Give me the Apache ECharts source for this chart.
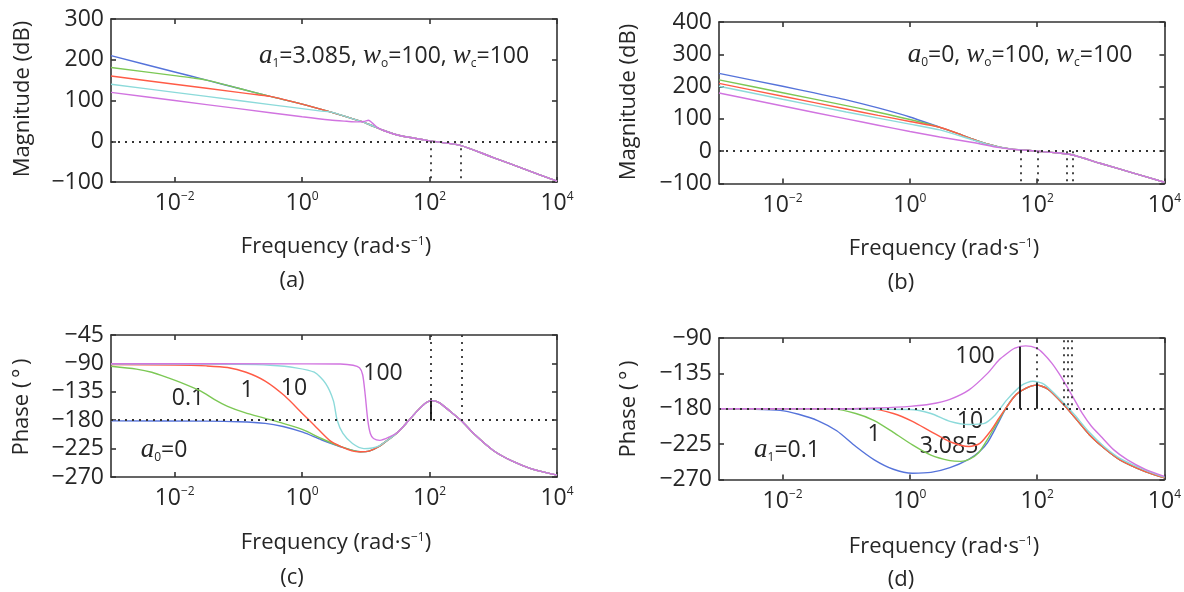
<!DOCTYPE html>
<html>
<head>
<meta charset="utf-8">
<script src="https://cdn.jsdelivr.net/npm/echarts@6/dist/echarts.min.js"></script>
<style>
  html, body { margin: 0; background: #fff; }
  #chart { width: 1184px; height: 592px; }
</style>
</head>
<body>
<div id="chart"></div>
<script>
// x values are log10 of the frequency (rad/s), the axes run from 10^-3 to 10^4
const freqTicks = [-2, 0, 2, 4];

// (a) magnitude, a1 = 3.085 ; curves a0 = 0, 0.1, 1, 10, 100
const magA_tail = [[-1.5,150],[-1,130],[-0.5,110],[0,91],[0.44,72],[0.7,60],[0.96,47],[1.1,38],[1.27,27],[1.48,16],[1.74,8],[2.0,1],[2.48,-10],[3.0,-40],[3.5,-69],[4.0,-98]];
const magA_a0_0 = [[-3,210],[-2,170]];
const magA_a0_01 = [[-3,181],[-2,161],[-1.7,155]];
const magA_a0_1 = [[-3,160],[-2,140],[-1,120],[-0.7,114]];
const magA_a0_10 = [[-3,140],[-2,120],[-1,100],[0,80],[0.3,74]];
const magA_a0_100 = [[-3,120],[-2,100],[-1,80],[0,60],[0.44,52],[0.7,49],[0.86,47.5],[0.97,48.5],[1.04,51.5],[1.1,45],[1.18,34]];

// (b) magnitude, a0 = 0 ; curves a1 = 0.1, 1, 3.085, 10, 100
const magB_tail = [[0.47,74],[0.75,55],[0.99,37],[1.2,23],[1.41,12.5],[1.6,6.5],[1.83,3],[2.01,0],[2.3,-5],[2.54,-11],[3.0,-38],[3.5,-67],[4.0,-96]];
const magB_a1_01 = [[-3,241],[-2,201],[-1.5,180.5],[-1,159],[-0.5,134],[0,106]];
const magB_a1_1 = [[-3,221],[-2,181],[-1,141],[-0.5,120.5],[0,98]];
const magB_a1_3 = [[-3,210],[-2,170],[-1,130.5],[-0.5,111],[0,92]];
const magB_a1_10 = [[-3,201],[-2,161],[-1,121.5],[-0.5,102.5],[0,84],[0.47,66],[0.99,35],[1.2,22.5]];
const magB_a1_100 = [[-3,180],[-2,140],[-1,100],[-0.5,80.5],[0,61],[0.47,44],[0.99,27],[1.41,11],[1.72,3.5]];

// (c) phase, a1 = 3.085 ; curves a0 = 0, 0.1, 1, 10, 100
const phC_tail = [[0.91,-230],[1.05,-229],[1.2,-222],[1.35,-211],[1.5,-199],[1.65,-183],[1.8,-166],[1.95,-152],[2.04,-149],[2.15,-152],[2.3,-164],[2.5,-181],[2.7,-202],[3.0,-228],[3.3,-245],[3.6,-257],[4.0,-267]];
const phC_a0_0 = [[-3,-181],[-1.5,-181.5],[-1,-182.5],[-0.58,-185],[-0.3,-190],[0.01,-199],[0.3,-211],[0.6,-222]];
const phC_a0_01 = [[-3,-94.5],[-2.6,-99],[-2.36,-104],[-2.1,-113],[-1.89,-121],[-1.59,-134],[-1.38,-147],[-1.17,-158],[-0.9,-168],[-0.58,-177],[-0.3,-185],[0.01,-195],[0.3,-209],[0.6,-221.5]];
const phC_a0_1 = [[-3,-92],[-2,-92.5],[-1.5,-94],[-1.17,-96.5],[-0.88,-104],[-0.58,-118],[-0.28,-141],[0.01,-170],[0.19,-188],[0.43,-212],[0.61,-222],[0.78,-228.5]];
const phC_a0_10 = [[-3,-91],[-1,-91.5],[-0.5,-93],[-0.1,-97],[0.19,-104],[0.37,-122],[0.49,-149],[0.55,-180],[0.64,-201],[0.79,-217],[0.97,-225],[1.1,-224],[1.2,-221]];
const phC_a0_100 = [[-3,-90.5],[0,-90.7],[0.6,-91],[0.8,-93],[0.9,-97],[0.95,-108],[0.99,-140],[1.03,-180],[1.07,-201],[1.12,-209],[1.22,-212],[1.38,-206],[1.5,-199]];

// (d) phase, a0 = 0 ; curves a1 = 0.1, 1, 3.085, 10, 100
const phD_tail = [[1.52,-178],[1.67,-162],[1.82,-154],[1.99,-150],[2.17,-155],[2.41,-174],[2.59,-191],[2.82,-213],[3.05,-230],[3.3,-245],[3.7,-260],[4.0,-268]];
const phD_a1_01 = [[-3,-180],[-2.5,-180.5],[-2.04,-182],[-1.75,-187],[-1.45,-195],[-1.15,-208],[-0.85,-228],[-0.56,-245],[-0.26,-257],[0.04,-262],[0.33,-261],[0.63,-255],[0.93,-244],[1.1,-234],[1.22,-223],[1.37,-201]];
const phD_a1_1 = [[-3,-180],[-1.2,-180.5],[-0.85,-186],[-0.56,-195],[-0.26,-210],[0.04,-226],[0.33,-239],[0.63,-246],[0.8,-247],[0.93,-244.5],[1.08,-236],[1.22,-219],[1.37,-198]];
const phD_a1_3 = [[-3,-180],[-0.6,-180.5],[-0.26,-186],[0.04,-196],[0.33,-209],[0.63,-222],[0.93,-228],[1.1,-224],[1.28,-207],[1.4,-192]];
const phD_a1_10 = [[-3,-180],[0,-181],[0.33,-186],[0.63,-196],[0.93,-200],[1.16,-199],[1.34,-188],[1.52,-169],[1.76,-150],[1.93,-145],[2.11,-149],[2.41,-172],[2.59,-188],[2.82,-210],[3.05,-228],[3.3,-243],[3.7,-258],[4.0,-267]];
const phD_a1_100 = [[-3,-180],[-1,-180],[-0.5,-179],[0,-177],[0.33,-174],[0.63,-168],[0.93,-156],[1.22,-135],[1.4,-118],[1.52,-110],[1.65,-103],[1.82,-100],[1.99,-103],[2.1,-110],[2.23,-122],[2.35,-136],[2.47,-152],[2.59,-169],[2.71,-186],[2.85,-202],[3.0,-215],[3.2,-232],[3.42,-245],[3.7,-257],[4.0,-266]];

// guide lines: [x, yFrom, yTo]
const dotA = [[2.02,0,-100],[2.49,0,-100]];
const dotB = [[1.74,0,-100],[2.01,0,-100],[2.46,0,-100],[2.56,0,-100]];
const dotC = [[2.02,-45,-180],[2.5,-45,-180]];
const solidC = [[2.02,-180,-149]];
const dotD = [[1.72,-93,-101],[2.0,-93,-147],[2.42,-93,-180],[2.48,-93,-180],[2.54,-93,-180]];
const solidD = [[1.72,-180,-101],[2.0,-180,-147]];

const colors = ['#5573da', '#7cc855', '#ff5b46', '#8cdada', '#d174e0'];
const sans = 'Open Sans';
const serif = 'Liberation Serif';
const txt = '#262626';
const axisColor = '#333';

function withTail(head, tail) {
  const last = head[head.length - 1][0];
  return head.concat(tail.filter(p => p[0] > last));
}

const panels = [
  { grid: {left: 111, top: 19, width: 446, height: 163}, y: [-100, 300, 100], h: 0,
    curves: [magA_a0_0, magA_a0_01, magA_a0_1, magA_a0_10, magA_a0_100].map(c => withTail(c, magA_tail)),
    dots: dotA, solids: [] },
  { grid: {left: 719, top: 22, width: 446, height: 161.5}, y: [-100, 400, 100], h: 0,
    curves: [magB_a1_01, magB_a1_1, magB_a1_3, magB_a1_10, magB_a1_100].map(c => withTail(c, magB_tail)),
    dots: dotB, solids: [] },
  { grid: {left: 111, top: 335, width: 446, height: 142}, y: [-270, -45, 45], h: -180,
    curves: [phC_a0_0, phC_a0_01, phC_a0_1, phC_a0_10, phC_a0_100].map(c => withTail(c, phC_tail)),
    dots: dotC, solids: solidC },
  { grid: {left: 719, top: 338, width: 446, height: 141.5}, y: [-270, -90, 45], h: -180,
    curves: [withTail(phD_a1_01, phD_tail), withTail(phD_a1_1, phD_tail), withTail(phD_a1_3, phD_tail), phD_a1_10, phD_a1_100],
    dots: dotD, solids: solidD }
];

const minus = v => String(v).replace('-', '\u2212');

function makeX(gi, position, labels) {
  return {
    type: 'value', gridIndex: gi, position, min: -3, max: 4,
    axisLine: { show: true, onZero: false, lineStyle: { color: axisColor, width: 1.6 } },
    axisTick: { show: true, inside: true, length: 5, customValues: freqTicks, lineStyle: { color: axisColor, width: 1.6 } },
    axisLabel: {
      show: labels, customValues: freqTicks, margin: 9,
      formatter: v => '{b|10}{s|' + minus(v) + '}',
      rich: {
        b: { fontFamily: sans, fontSize: 23, color: txt, lineHeight: 25 },
        s: { fontFamily: sans, fontSize: 12, color: txt, lineHeight: 13, verticalAlign: 'top' }
      }
    },
    splitLine: { show: false }
  };
}

function makeY(gi, position, labels, r) {
  return {
    type: 'value', gridIndex: gi, position, min: r[0], max: r[1], interval: r[2],
    axisLine: { show: true, onZero: false, lineStyle: { color: axisColor, width: 1.6 } },
    axisTick: { show: true, inside: true, length: 5, lineStyle: { color: axisColor, width: 1.6 } },
    axisLabel: { show: labels, margin: 7, fontFamily: sans, fontSize: 23, color: txt, formatter: minus },
    splitLine: { show: false }
  };
}

const xAxes = [], yAxes = [], series = [];
panels.forEach((p, i) => {
  xAxes.push(makeX(i, 'bottom', true), makeX(i, 'top', false));
  yAxes.push(makeY(i, 'left', true, p.y), makeY(i, 'right', false, p.y));
  p.curves.forEach((d, k) => {
    series.push({
      type: 'line', xAxisIndex: i * 2, yAxisIndex: i * 2, data: d,
      symbol: 'none', smooth: 0.25, silent: true,
      lineStyle: { color: colors[k], width: 1.4 }
    });
  });
  const dot = { type: [2, 5], color: '#333', width: 1.8 };
  const solid = { type: 'solid', color: '#111', width: 1.8 };
  const ml = [{ yAxis: p.h, lineStyle: dot }];
  p.dots.forEach(s => ml.push([{ coord: [s[0], s[1]], lineStyle: dot }, { coord: [s[0], s[2]] }]));
  p.solids.forEach(s => ml.push([{ coord: [s[0], s[1]], lineStyle: solid }, { coord: [s[0], s[2]] }]));
  series.push({
    type: 'line', xAxisIndex: i * 2, yAxisIndex: i * 2, data: [], z: 5, silent: true,
    markLine: { silent: true, symbol: ['none', 'none'], label: { show: false }, animation: false, data: ml }
  });
});

const rich = {
  n: { fontFamily: sans, fontSize: 22, color: txt },
  t: { fontFamily: sans, fontSize: 23, color: txt },
  i: { fontFamily: serif, fontStyle: 'italic', fontSize: 27, color: txt },
  sb: { fontFamily: sans, fontSize: 12, color: txt, verticalAlign: 'bottom' },
  sp: { fontFamily: sans, fontSize: 12, color: txt, verticalAlign: 'top' }
};

function label(x, y, text, rot) {
  return {
    type: 'text', x, y, rotation: rot || 0, silent: true,
    style: { text, rich, fill: txt, font: '22px "' + sans + '"', align: 'center', verticalAlign: 'middle' }
  };
}

const freqTitle = '{n|Frequency (rad\u00b7s}{sp|\u22121}{n|)}';
const graphics = [
  label(394, 56, '{i|a}{sb|1}{t|=3.085, }{i|w}{sb|o}{t|=100, }{i|w}{sb|c}{t|=100}'),
  label(1020, 55, '{i|a}{sb|0}{t|=0, }{i|w}{sb|o}{t|=100, }{i|w}{sb|c}{t|=100}'),
  label(23, 99, '{n|Magnitude (dB)}', Math.PI / 2),
  label(629, 102, '{n|Magnitude (dB)}', Math.PI / 2),
  label(22, 407, '{n|Phase (\u2009\u00b0\u2009)}', Math.PI / 2),
  label(629, 409, '{n|Phase (\u2009\u00b0\u2009)}', Math.PI / 2),
  label(336, 247, freqTitle), label(944, 249, freqTitle),
  label(336, 543, freqTitle), label(944, 547, freqTitle),
  label(292, 281, '{n|(a)}'), label(901, 283, '{n|(b)}'),
  label(292, 578, '{n|(c)}'), label(901, 580, '{n|(d)}'),
  label(188, 398, '{t|0.1}'), label(247, 390, '{t|1}'), label(294, 388, '{t|10}'), label(383, 373, '{t|100}'),
  label(164, 450, '{i|a}{sb|0}{t|=0}'),
  label(975, 356, '{t|100}'), label(970, 421, '{t|10}'), label(874, 434, '{t|1}'), label(949, 446, '{t|3.085}'),
  label(787, 450, '{i|a}{sb|1}{t|=0.1}')
];

const chart = echarts.init(document.getElementById('chart'));
chart.setOption({
  animation: false,
  backgroundColor: '#fff',
  textStyle: { fontFamily: sans },
  grid: panels.map(p => Object.assign({ containLabel: false }, p.grid)),
  xAxis: xAxes,
  yAxis: yAxes,
  series,
  graphic: graphics
});
</script>
</body>
</html>
